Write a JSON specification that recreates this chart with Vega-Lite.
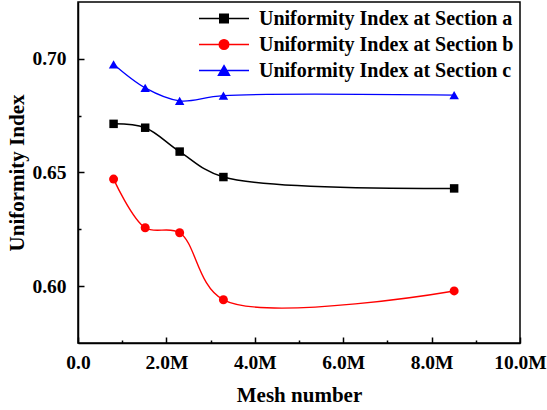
{
  "$schema": "https://vega.github.io/schema/vega-lite/v6.json",
  "width": 442,
  "height": 341,
  "autosize": {"type": "none"},
  "padding": {"left": 78, "top": 2, "right": 27, "bottom": 67},
  "background": "white",
  "config": {
    "view": {"stroke": "black", "strokeWidth": 1.5},
    "font": "Liberation Serif",
    "axis": {
      "domainColor": "black",
      "domainWidth": 1.5,
      "tickColor": "black",
      "tickWidth": 1.5,
      "grid": false,
      "labelFont": "Liberation Serif",
      "labelFontWeight": "bold",
      "labelFontSize": 19.5,
      "labelColor": "black",
      "titleFont": "Liberation Serif",
      "titleFontWeight": "bold",
      "titleFontSize": 21,
      "titleColor": "black"
    },
    "legend": {
      "padding": 0,
      "labelFont": "Liberation Serif",
      "labelFontWeight": "bold",
      "labelFontSize": 20,
      "labelColor": "black",
      "labelLimit": 400
    }
  },
  "data": {
    "values": [
      {"mesh": 805000, "ui": 0.6714, "series": "Uniformity Index at Section a"},
      {"mesh": 1520000, "ui": 0.6697, "series": "Uniformity Index at Section a"},
      {"mesh": 2300000, "ui": 0.6592, "series": "Uniformity Index at Section a"},
      {"mesh": 3290000, "ui": 0.6480, "series": "Uniformity Index at Section a"},
      {"mesh": 8510000, "ui": 0.6430, "series": "Uniformity Index at Section a"},
      {"mesh": 805000, "ui": 0.6471, "series": "Uniformity Index at Section b"},
      {"mesh": 1520000, "ui": 0.6257, "series": "Uniformity Index at Section b"},
      {"mesh": 2300000, "ui": 0.6235, "series": "Uniformity Index at Section b"},
      {"mesh": 3290000, "ui": 0.5940, "series": "Uniformity Index at Section b"},
      {"mesh": 8510000, "ui": 0.5979, "series": "Uniformity Index at Section b"},
      {"mesh": 805000, "ui": 0.6976, "series": "Uniformity Index at Section c"},
      {"mesh": 1520000, "ui": 0.6872, "series": "Uniformity Index at Section c"},
      {"mesh": 2300000, "ui": 0.6815, "series": "Uniformity Index at Section c"},
      {"mesh": 3290000, "ui": 0.6838, "series": "Uniformity Index at Section c"},
      {"mesh": 8510000, "ui": 0.6840, "series": "Uniformity Index at Section c"}
    ]
  },
  "resolve": {
    "axis": {"x": "independent", "y": "independent"},
    "scale": {"color": "independent", "shape": "independent", "stroke": "independent", "size": "independent"}
  },
  "layer": [
    {
      "mark": {"type": "line", "interpolate": "catmull-rom"},
      "encoding": {
        "x": {
          "field": "mesh", "type": "quantitative",
          "scale": {"domain": [0, 10000000], "nice": false},
          "axis": {
            "title": "Mesh number",
            "values": [0, 2000000, 4000000, 6000000, 8000000, 10000000],
            "labelExpr": "datum.value == 0 ? '0.0' : format(datum.value / 1000000, '.1f') + 'M'",
            "tickSize": -6,
            "labelPadding": 16,
            "titlePadding": 13,
            "labelFlush": false
          }
        },
        "y": {
          "field": "ui", "type": "quantitative",
          "scale": {"domain": [0.575, 0.725], "nice": false, "zero": false},
          "axis": {
            "title": "Uniformity Index",
            "values": [0.6, 0.65, 0.7],
            "format": ".2f",
            "tickSize": -6,
            "labelPadding": 18,
            "titlePadding": 4,
            "labelFlush": false
          }
        },
        "color": {
          "field": "series", "type": "nominal",
          "scale": {"range": ["#000000", "#ff0000", "#0000ff"]},
          "legend": null
        },
        "strokeWidth": {
          "field": "series", "type": "nominal",
          "scale": {"range": [1.5, 1.3, 1.6]},
          "legend": null
        }
      }
    },
    {
      "mark": {"type": "point", "filled": true, "opacity": 1},
      "encoding": {
        "x": {
          "field": "mesh", "type": "quantitative",
          "axis": {
            "orient": "bottom",
            "values": [1000000, 3000000, 5000000, 7000000, 9000000],
            "labels": false, "domain": false, "title": null,
            "tickSize": -3
          }
        },
        "y": {
          "field": "ui", "type": "quantitative",
          "axis": {
            "orient": "left",
            "values": [0.625, 0.675],
            "labels": false, "domain": false, "title": null,
            "tickSize": -3
          }
        },
        "color": {
          "field": "series", "type": "nominal",
          "scale": {"range": ["#000000", "#ff0000", "#0000ff"]},
          "legend": null
        },
        "shape": {
          "field": "series", "type": "nominal",
          "scale": {"range": ["square", "circle", "triangle-up"]},
          "legend": null
        },
        "size": {
          "field": "series", "type": "nominal",
          "scale": {"range": [72, 90, 121]},
          "legend": null
        }
      }
    },
    {
      "transform": [{"filter": "datum.mesh < 0"}],
      "mark": {"type": "point", "filled": true, "opacity": 1, "strokeWidth": 1.5, "size": 100},
      "encoding": {
        "x": {"field": "mesh", "type": "quantitative", "axis": null},
        "y": {"field": "ui", "type": "quantitative", "axis": null},
        "color": {
          "field": "series", "type": "nominal",
          "scale": {
            "domain": ["Uniformity Index at Section a", "Uniformity Index at Section b", "Uniformity Index at Section c"],
            "range": ["#000000", "#ff0000", "#0000ff"]
          },
          "legend": {
            "title": null, "orient": "none", "legendX": 136, "legendY": 6.5,
            "labelOffset": 25, "rowPadding": 6, "symbolStrokeWidth": 1.5, "symbolSize": 100
          }
        },
        "stroke": {
          "field": "series", "type": "nominal",
          "scale": {
            "domain": ["Uniformity Index at Section a", "Uniformity Index at Section b", "Uniformity Index at Section c"],
            "range": ["#000000", "#ff0000", "#0000ff"]
          },
          "legend": {
            "title": null, "orient": "none", "legendX": 136, "legendY": 6.5,
            "labelOffset": 25, "rowPadding": 6, "symbolStrokeWidth": 1.5, "symbolSize": 100
          }
        },
        "shape": {
          "field": "series", "type": "nominal",
          "scale": {
            "domain": ["Uniformity Index at Section a", "Uniformity Index at Section b", "Uniformity Index at Section c"],
            "range": [
              "M-5,0L5,0M-0.85,-0.85L0.85,-0.85L0.85,0.85L-0.85,0.85Z",
              "M-5,0L5,0M-0.95,0A0.95,0.95,0,1,0,0.95,0A0.95,0.95,0,1,0,-0.95,0Z",
              "M-5,0L5,0M0,-0.95L1.1,0.95L-1.1,0.95Z"
            ]
          },
          "legend": {
            "title": null, "orient": "none", "legendX": 136, "legendY": 6.5,
            "labelOffset": 25, "rowPadding": 6, "symbolStrokeWidth": 1.5, "symbolSize": 100
          }
        }
      }
    }
  ]
}
